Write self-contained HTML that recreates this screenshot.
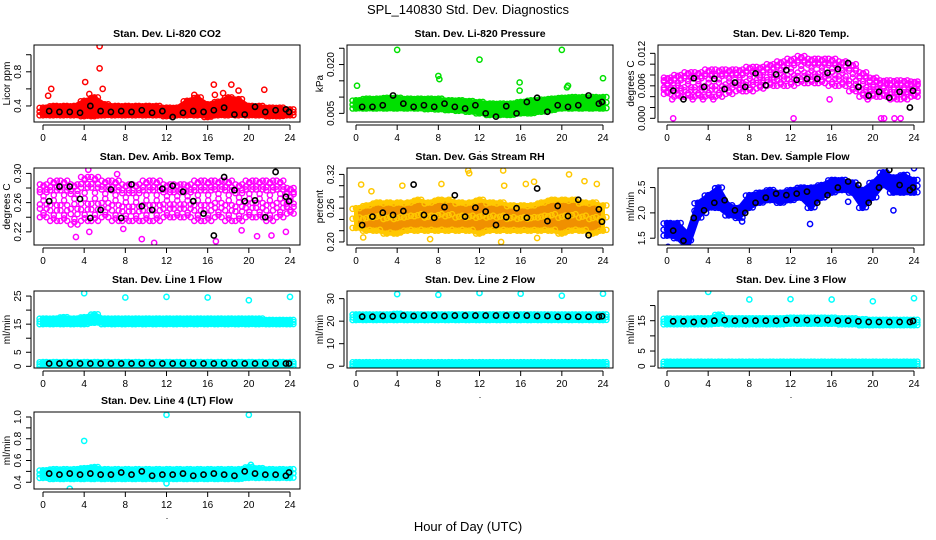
<!DOCTYPE html>
<html><head><meta charset="utf-8"><style>
html,body{margin:0;padding:0;background:#fff;}
svg{display:block;font-family:"Liberation Sans",sans-serif;}
</style></head><body>
<svg id="chart" width="936" height="540" viewBox="0 0 936 540" xmlns="http://www.w3.org/2000/svg">
<rect x="0" y="0" width="936" height="540" fill="#fff"/>
<text x="468" y="14" text-anchor="middle" font-size="13">SPL_140830  Std. Dev. Diagnostics</text>
<text x="468" y="531" text-anchor="middle" font-size="13">Hour of Day (UTC)</text>
</svg>
<script>
const hours = [0,1,2,3,4,5,6,7,8,9,10,11,12,13,14,15,16,17,18,19,20,21,22,23,24];
const blackX = [0.6,1.6,2.6,3.6,4.6,5.6,6.6,7.6,8.6,9.6,10.6,11.6,12.6,13.6,14.6,15.6,16.6,17.6,18.6,19.6,20.6,21.6,22.6,23.6,23.9];
const xTicks = [0,4,8,12,16,20,24];

// CO2
const co2Lo = [0.29,0.29,0.29,0.29,0.28,0.28,0.29,0.29,0.29,0.29,0.29,0.29,0.28,0.29,0.29,0.29,0.27,0.29,0.29,0.29,0.29,0.29,0.28,0.28,0.29];
const co2Hi = [0.38,0.40,0.40,0.40,0.46,0.50,0.42,0.40,0.40,0.40,0.40,0.40,0.38,0.38,0.46,0.50,0.42,0.45,0.50,0.48,0.40,0.40,0.38,0.38,0.36];
const co2OutX = [0.5,0.8,4.1,4.5,5.5,5.5,5.8,16.6,18.3,19,21.5,16.7,17.5,14.7];
const co2OutY = [0.52,0.60,0.68,0.54,1.10,0.84,0.60,0.65,0.65,0.58,0.59,0.53,0.55,0.53];
const co2Black = [0.34,0.33,0.33,0.32,0.40,0.34,0.33,0.34,0.33,0.35,0.32,0.34,0.27,0.32,0.34,0.33,0.35,0.38,0.30,0.30,0.39,0.33,0.35,0.36,0.33];
// Pressure
const prLo = [0.0065,0.0065,0.0065,0.0065,0.0065,0.0065,0.0065,0.0063,0.0062,0.006,0.0058,0.0055,0.005,0.0045,0.0045,0.0045,0.005,0.005,0.0055,0.006,0.0065,0.0065,0.0065,0.0065,0.0065];
const prHi = [0.009,0.0095,0.0095,0.0098,0.0098,0.0095,0.0095,0.0095,0.0095,0.009,0.009,0.0088,0.0085,0.008,0.008,0.008,0.0085,0.009,0.0092,0.0095,0.0098,0.010,0.010,0.010,0.010];
const prOutX = [0.1,4,8,8.1,12,15.9,15.9,20,20.6,20.5,24];
const prOutY = [0.0135,0.0245,0.0165,0.0155,0.0215,0.0145,0.012,0.0245,0.0135,0.013,0.0158];
const prBlack = [0.007,0.007,0.0075,0.0105,0.008,0.007,0.0075,0.007,0.008,0.007,0.0065,0.0075,0.005,0.004,0.0072,0.005,0.0085,0.0098,0.0055,0.0075,0.007,0.0075,0.0105,0.008,0.0085];
// Li-820 Temp
const tmLo = [0.0045,0.004,0.004,0.004,0.004,0.004,0.0045,0.005,0.005,0.0055,0.006,0.006,0.006,0.0065,0.0065,0.0065,0.006,0.006,0.005,0.004,0.004,0.004,0.0035,0.0035,0.004];
const tmHi = [0.0075,0.008,0.0085,0.0085,0.009,0.009,0.009,0.009,0.0095,0.0095,0.010,0.0105,0.011,0.0115,0.011,0.011,0.011,0.0105,0.010,0.0085,0.0075,0.007,0.007,0.007,0.0068];
const tmOutX = [0.6,0.5,2.5,3.5,4.5,12.3,15.8,19.5,20.8,21.1,22.1,22.7];
const tmOutY = [0,0.0035,0.0035,0.0035,0.0035,0,0.0035,0.0035,0,0,0,0];
const tmBlack = [0.0051,0.0035,0.0074,0.0058,0.0073,0.0054,0.0066,0.0058,0.0083,0.0061,0.0081,0.0089,0.0071,0.0073,0.0073,0.0084,0.0091,0.0102,0.0058,0.0042,0.0049,0.0038,0.0049,0.002,0.0051];
// Amb Box Temp
const abLo = [0.24,0.235,0.235,0.23,0.235,0.235,0.24,0.235,0.235,0.235,0.235,0.235,0.24,0.24,0.24,0.235,0.235,0.24,0.235,0.235,0.24,0.24,0.235,0.24,0.245];
const abHi = [0.285,0.29,0.29,0.285,0.295,0.295,0.29,0.29,0.285,0.285,0.29,0.29,0.285,0.285,0.285,0.29,0.29,0.29,0.29,0.285,0.29,0.29,0.29,0.29,0.28];
const abOutX = [3.2,4.5,7.8,9.6,10.8,16.8,19.3,20.8,22.2,23.6,4.4,7.2];
const abOutY = [0.213,0.22,0.224,0.21,0.205,0.207,0.222,0.214,0.215,0.22,0.305,0.299];
const abBlack = [0.262,0.282,0.282,0.265,0.239,0.25,0.278,0.239,0.285,0.255,0.25,0.279,0.283,0.275,0.262,0.245,0.215,0.295,0.277,0.262,0.263,0.24,0.302,0.268,0.262];
// Gas Stream RH
const rhLo = [0.225,0.22,0.22,0.215,0.215,0.22,0.22,0.22,0.22,0.22,0.22,0.22,0.215,0.22,0.22,0.22,0.22,0.22,0.22,0.22,0.215,0.22,0.22,0.215,0.22];
const rhHi = [0.26,0.265,0.27,0.27,0.27,0.27,0.275,0.27,0.275,0.275,0.27,0.27,0.275,0.27,0.27,0.265,0.265,0.265,0.27,0.275,0.275,0.275,0.27,0.27,0.265];
const rhOutX = [0.5,1.5,4.5,8.3,10.9,11,14.3,14.4,16.5,17.3,20.7,22.2,23.4,0.7,7.2,14.1,17.6];
const rhOutY = [0.302,0.29,0.3,0.303,0.327,0.322,0.327,0.3,0.303,0.307,0.32,0.308,0.303,0.208,0.205,0.2,0.207];
const rhBlack = [0.23,0.245,0.252,0.248,0.255,0.302,0.248,0.243,0.262,0.283,0.245,0.261,0.254,0.23,0.244,0.26,0.243,0.295,0.237,0.264,0.246,0.275,0.212,0.258,0.236];
// Sample Flow
const sfLo = [1.55,1.5,1.3,1.9,2.1,2.1,1.95,1.9,2.1,2.2,2.25,2.2,2.25,2.3,2.1,2.3,2.4,2.45,2.4,2.1,2.3,2.55,2.4,2.4,2.4];
const sfHi = [1.8,1.8,1.6,2.2,2.35,2.5,2.15,2.1,2.35,2.4,2.45,2.4,2.45,2.5,2.5,2.55,2.65,2.65,2.6,2.45,2.6,2.8,2.7,2.75,2.65];
const sfOutX = [0.1,3.8,7.3,13.9,22,24,17.6];
const sfOutY = [1.33,2.0,1.83,1.78,2.05,2.88,2.22];
const sfBlack = [1.65,1.45,1.9,2.05,2.2,2.25,2.05,2.0,2.2,2.3,2.38,2.35,2.38,2.42,2.2,2.35,2.5,2.62,2.55,2.2,2.5,2.85,2.55,2.45,2.5];
// Line 1
const l1Lo = [15,15,15,15,15,15.5,15,15,15,15,15,15,15,15,15,15,15,15,15,15,15,15,15,15,15];
const l1Hi = [17,17,17.5,17,17.5,18.5,17,17,17,17,17,17,17,17,17,17,17,17,17,17,17,17,16.5,16.5,16.5];
const l1Lo2 = [0,0,0,0,0,0,0,0,0,0,0,0,0,0,0,0,0,0,0,0,0,0,0,0,0];
const l1Hi2 = [1.5,1.5,1.5,1.5,1.5,1.5,1.5,1.5,1.5,1.5,1.5,1.5,1.5,1.5,1.5,1.5,1.5,1.5,1.5,1.5,1.5,1.5,1.5,1.5,1.5];
const l1OutX = [4,8,12,16,20,24];
const l1OutY = [26,24.5,24.7,24.5,23.5,24.7];
const l1Black = [1,1,1,1,1,1,1,1,1,1,1,1,1,1,1,1,1,1,1,1,1,1,1,1,1];
// Line 2
const l2Lo = [20.5,20.5,20.5,20.5,20.5,20.5,20.5,20.5,20.5,20.5,20.5,20.5,20.5,20.5,20.5,20.5,20.5,20.5,20.5,20.5,20.5,20.5,20.5,20.5,20.5];
const l2Hi = [23,23,23,23,23.3,23,23,23,23,23,23,23,23,23,23,23,23,23,23,23,23,23,23,23,23];
const l2Lo2 = [0,0,0,0,0,0,0,0,0,0,0,0,0,0,0,0,0,0,0,0,0,0,0,0,0];
const l2Hi2 = [1.8,1.8,1.8,1.8,1.8,1.8,1.8,1.8,1.8,1.8,1.8,1.8,1.8,1.8,1.8,1.8,1.8,1.8,1.8,1.8,1.8,1.8,1.8,1.8,1.8];
const l2OutX = [4,8,12,16,20,24];
const l2OutY = [32,31.7,32.5,32.2,31.3,32.2];
const l2Black = [22,22,22.3,22.3,22.5,22.3,22.5,22.5,22.3,22.5,22.5,22.5,22.5,22.5,22.5,22.5,22.5,22.3,22.3,22,22,22,22,22,22.2];
// Line 3
const l3Lo = [13.8,13.8,13.8,13.8,13.8,14,13.8,13.8,13.8,13.8,13.8,13.8,14,14,14,14,14,13.8,13.8,13.5,13.5,13.5,13.5,13.5,13.5];
const l3Hi = [15.7,15.7,15.7,15.8,15.8,17,15.8,15.8,15.8,15.8,15.8,15.8,16,16,16,16,16,15.8,15.8,15.5,15.3,15.3,15.3,15.3,15.3];
const l3Lo2 = [0,0,0,0,0,0,0,0,0,0,0,0,0,0,0,0,0,0,0,0,0,0,0,0,0];
const l3Hi2 = [1.5,1.5,1.5,1.5,1.5,1.5,1.5,1.5,1.5,1.5,1.5,1.5,1.5,1.5,1.5,1.5,1.5,1.5,1.5,1.5,1.5,1.5,1.5,1.5,1.5];
const l3OutX = [4,8,12,16,20,24];
const l3OutY = [24.5,22,22.1,22,21.4,22.4];
const l3Black = [14.8,14.8,14.6,14.8,15,15.2,15,15,15,15,15,15.2,15.2,15.2,15.2,15.2,15,15,14.8,14.6,14.6,14.6,14.6,14.6,14.9];
// Line 4
const l4Lo = [0.44,0.43,0.43,0.43,0.43,0.43,0.43,0.43,0.43,0.43,0.43,0.43,0.43,0.43,0.43,0.43,0.43,0.43,0.43,0.43,0.44,0.44,0.44,0.44,0.44];
const l4Hi = [0.51,0.52,0.52,0.52,0.53,0.54,0.52,0.52,0.52,0.52,0.52,0.52,0.52,0.52,0.52,0.52,0.52,0.52,0.52,0.52,0.54,0.53,0.52,0.52,0.52];
const l4OutX = [12,20,4,2.6,12,20.2];
const l4OutY = [1.02,1.02,0.78,0.34,0.39,0.56];
const l4Black = [0.48,0.47,0.48,0.47,0.48,0.47,0.47,0.49,0.47,0.5,0.46,0.47,0.47,0.48,0.46,0.47,0.48,0.47,0.46,0.5,0.48,0.47,0.47,0.46,0.49];

const NS = 'http://www.w3.org/2000/svg';
const svg = document.getElementById('chart');
const colLeft = [34,347,658];
const rowTop = [45,168,291,412];
const W = 266, H = 77;

const panels = [
 {key:'co2',title:'Stan. Dev. Li-820 CO2',ylab:'Licor ppm',c:0,r:0,ymin:0.212,ymax:1.114,yt:[0.4,0.6,0.8,1.0],yl:['0.4','','0.8',''],col:'#ff0000',lo:co2Lo,hi:co2Hi,ox:co2OutX,oy:co2OutY,bk:co2Black},
 {key:'pressure',title:'Stan. Dev. Li-820 Pressure',ylab:'kPa',c:1,r:0,ymin:0.00235,ymax:0.026,yt:[0.005,0.01,0.015,0.02,0.025],yl:['0.005','','','0.020',''],col:'#00e000',lo:prLo,hi:prHi,ox:prOutX,oy:prOutY,bk:prBlack},
 {key:'li820-temp',title:'Stan. Dev. Li-820 Temp.',ylab:'degrees C',c:2,r:0,ymin:-0.00068,ymax:0.01354,yt:[0,0.002,0.004,0.006,0.008,0.01,0.012],yl:['0.000','','','0.006','','','0.012'],col:'#ff00ff',lo:tmLo,hi:tmHi,ox:tmOutX,oy:tmOutY,bk:tmBlack,sparse:true},
 {key:'amb-box-temp',title:'Stan. Dev. Amb. Box Temp.',ylab:'degrees C',c:0,r:1,ymin:0.202,ymax:0.3074,yt:[0.22,0.24,0.26,0.28,0.30],yl:['0.22','','0.26','','0.30'],col:'#ff00ff',lo:abLo,hi:abHi,ox:abOutX,oy:abOutY,bk:abBlack,sparse:true},
 {key:'gas-stream-rh',title:'Stan. Dev. Gas Stream RH',ylab:'percent',c:1,r:1,ymin:0.1946,ymax:0.3314,yt:[0.2,0.22,0.24,0.26,0.28,0.3,0.32],yl:['0.20','','','0.26','','','0.32'],col:'#ffc800',fill:'#f09000',lo:rhLo,hi:rhHi,ox:rhOutX,oy:rhOutY,bk:rhBlack},
 {key:'sample-flow',title:'Stan. Dev. Sample Flow',ylab:'ml/min',c:2,r:1,ymin:1.366,ymax:2.886,yt:[1.5,2.0,2.5],yl:['1.5','2.0','2.5'],col:'#0000ff',lo:sfLo,hi:sfHi,ox:sfOutX,oy:sfOutY,bk:sfBlack},
 {key:'line1-flow',title:'Stan. Dev. Line 1 Flow',ylab:'ml/min',c:0,r:2,ymin:-0.6,ymax:26.8,yt:[0,5,10,15,20,25],yl:['0','5','','15','','25'],col:'#00ffff',lo:l1Lo,hi:l1Hi,lo2:l1Lo2,hi2:l1Hi2,ox:l1OutX,oy:l1OutY,bk:l1Black},
 {key:'line2-flow',title:'Stan. Dev. Line 2 Flow',ylab:'ml/min',c:1,r:2,ymin:-0.8,ymax:33.4,yt:[0,10,20,30],yl:['0','10','20','30'],col:'#00ffff',lo:l2Lo,hi:l2Hi,lo2:l2Lo2,hi2:l2Hi2,ox:l2OutX,oy:l2OutY,bk:l2Black},
 {key:'line3-flow',title:'Stan. Dev. Line 3 Flow',ylab:'ml/min',c:2,r:2,ymin:-0.6,ymax:24.8,yt:[0,5,10,15,20],yl:['0','5','','15',''],col:'#00ffff',lo:l3Lo,hi:l3Hi,lo2:l3Lo2,hi2:l3Hi2,ox:l3OutX,oy:l3OutY,bk:l3Black},
 {key:'line4-flow',title:'Stan. Dev. Line 4 (LT) Flow',ylab:'ml/min',c:0,r:3,ymin:0.338,ymax:1.046,yt:[0.4,0.5,0.6,0.7,0.8,0.9,1.0],yl:['0.4','','0.6','','0.8','','1.0'],col:'#00ffff',lo:l4Lo,hi:l4Hi,ox:l4OutX,oy:l4OutY,bk:l4Black}
];

function mk(tag, attrs, parent){
  const e = document.createElementNS(NS, tag);
  for (const k in attrs) e.setAttribute(k, attrs[k]);
  (parent||svg).appendChild(e);
  return e;
}

panels.forEach(function(p, pi){
  const left = colLeft[p.c], top = rowTop[p.r], bot = top + H, right = left + W;
  const x0 = left + 9, x24 = left + 256;
  const sx = v => x0 + v/24*(x24-x0);
  const sy = v => bot - (v-p.ymin)/(p.ymax-p.ymin)*(bot-top);
  const g = mk('g', {});
  
  
  const cp = mk('clipPath', {id:'clip'+pi}, g);
  mk('rect', {x:left, y:top, width:W, height:H}, cp);
  const t = mk('text', {x:(left+right)/2, y:top-8, 'text-anchor':'middle', 'font-size':'10.5', 'font-weight':'bold'}, g);
  t.textContent = p.title;
  
  
  const marks = mk('g', {'clip-path':'url(#clip'+pi+')'}, g);
  
  
  function band(lo, hi){
    if (!p.sparse){
      let pts = [];
      for (let i=0;i<hours.length;i++) pts.push(sx(hours[i])+','+sy(hi[i]));
      for (let i=hours.length-1;i>=0;i--) pts.push(sx(hours[i])+','+sy(lo[i]));
      const poly = mk('polygon', {points:pts.join(' '), fill:p.fill||p.col, stroke:p.col, 'stroke-width':'4', 'stroke-linejoin':'round'}, marks);
      
      
    }
    const fr = p.sparse ? [0,0.2,0.45,0.7,0.9,1] : [0,0.5,1];
    const dxs = p.sparse ? [-0.3,0.05,0.35] : [-0.33,0,0.33];
    for (let i=0;i<hours.length;i++){
      fr.forEach(function(f, fi){
        dxs.forEach(function(dx, di){
          const jit = p.sparse ? ((fi+di)%2 ? 0.12 : -0.12) : dx*0.2;
          const v = lo[i] + (hi[i]-lo[i])*Math.min(1, Math.max(0, f + jit*0.5));
          const c = mk('circle', {cx:sx(hours[i]+dx), cy:sy(v), r:2.6, fill:'none', stroke:p.col, 'stroke-width':1.4}, marks);
          
          
        });
      });
    }
  }
  band(p.lo, p.hi);
  if (p.lo2) band(p.lo2, p.hi2);
  for (let i=0;i<p.ox.length;i++){
    const c = mk('circle', {cx:sx(p.ox[i]), cy:sy(p.oy[i]), r:2.6, fill:'none', stroke:p.col, 'stroke-width':1.5}, marks);
    
    
  }
  for (let i=0;i<blackX.length;i++){
    const c = mk('circle', {cx:sx(blackX[i]), cy:sy(p.bk[i]), r:2.6, fill:'none', stroke:'#000', 'stroke-width':1.6}, marks);
    
    
  }
  const box = mk('rect', {x:left, y:top, width:W, height:H, fill:'none', stroke:'#000', 'stroke-width':1}, g);
  
  
  const xa = mk('g', {}, g);
  
  
  mk('line', {x1:sx(0), x2:sx(24), y1:bot+3, y2:bot+3, stroke:'#000'}, xa);
  xTicks.forEach(function(v){
    mk('line', {x1:sx(v), x2:sx(v), y1:bot+3, y2:bot+8, stroke:'#000'}, xa);
    const tl = mk('text', {x:sx(v), y:bot+19, 'text-anchor':'middle', 'font-size':'10'}, xa);
    tl.textContent = String(v);
    
    
  });
  const dot = mk('text', {x:(left+right)/2, y:bot+30, 'text-anchor':'middle', 'font-size':'9'}, xa);
  dot.textContent = '.';
  const ya = mk('g', {}, g);
  
  
  mk('line', {x1:left-3, x2:left-3, y1:sy(p.yt[0]), y2:sy(p.yt[p.yt.length-1]), stroke:'#000'}, ya);
  p.yt.forEach(function(v, i){
    mk('line', {x1:left-3, x2:left-8, y1:sy(v), y2:sy(v), stroke:'#000'}, ya);
    if (p.yl[i]){
      const yx = left-13, yy = sy(v);
      const tl = mk('text', {x:yx, y:yy, 'text-anchor':'middle', 'font-size':'10', transform:'rotate(-90 '+yx+' '+yy+')'}, ya);
      tl.textContent = p.yl[i];
      
      
    }
  });
  const lx = left-24, ly = (top+bot)/2;
  const yl = mk('text', {x:lx, y:ly, 'text-anchor':'middle', 'font-size':'10', transform:'rotate(-90 '+lx+' '+ly+')'}, g);
  yl.textContent = p.ylab;
  
  
});
</script>
</body></html>
